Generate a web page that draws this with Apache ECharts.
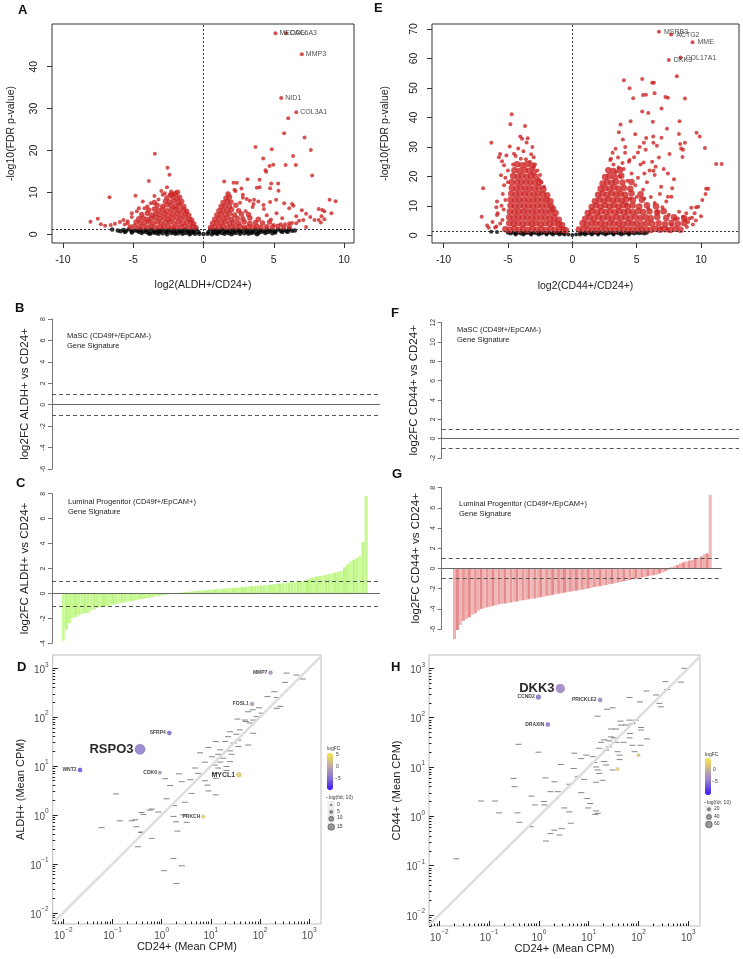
<!DOCTYPE html>
<html><head><meta charset="utf-8">
<script src="https://cdn.jsdelivr.net/npm/echarts@6/dist/echarts.min.js"></script>
<style>html,body{margin:0;padding:0;background:#fff}#c{width:743px;height:959px}</style>
</head><body><div id="c"></div>
<script>
// ---------------- DATA ----------------
// Panel A volcano: log2(ALDH+/CD24+), -log10(FDR)
const aBlack = [[-6.5,1.1],[-6.1,0.9],[-5.7,1.0],[-5.3,1.2],[-4.9,0.9],[-4.5,1.1],[-4.1,1.0],[-3.7,1.2],[-3.3,0.9],[-2.9,1.1],[-2.5,1.0],[-2.1,1.2],[-1.7,0.9],[-1.3,1.1],[-0.9,1.0],[-0.5,1.1],[0.5,1.1],[0.9,1.0],[1.3,1.2],[1.7,0.9],[2.1,1.1],[2.5,1.0],[2.9,1.2],[3.3,0.9],[3.7,1.1],[4.1,1.0],[4.5,1.2],[4.9,0.9],[5.3,1.1],[5.7,1.0],[6.1,1.2],[6.5,0.9],
[-5.9,0.7],[-5.5,0.8],[-5.1,0.7],[-4.7,0.8],[-4.3,0.7],[-3.9,0.8],[-3.5,0.7],[-3.1,0.8],[-2.7,0.7],[-2.3,0.8],[-1.9,0.7],[-1.5,0.8],[-1.1,0.7],[-0.7,0.8],[0.7,0.8],[1.1,0.7],[1.5,0.8],[1.9,0.7],[2.3,0.8],[2.7,0.7],[3.1,0.8],[3.5,0.7],[3.9,0.8],[4.3,0.7],[4.7,0.8],[5.1,0.7],[5.5,0.8],[5.9,0.7],[6.3,0.8],
[-5.6,0.5],[-5.1,0.4],[-4.6,0.6],[-4.1,0.5],[-3.6,0.4],[-3.1,0.6],[-2.6,0.5],[-2.1,0.4],[-1.6,0.6],[-1.1,0.5],[-0.7,0.4],[-0.35,0.5],[0.35,0.5],[0.7,0.4],[1.1,0.6],[1.6,0.5],[2.1,0.4],[2.6,0.6],[3.1,0.5],[3.6,0.4],[4.1,0.6],[4.6,0.5],[5.1,0.4],[5.6,0.5],[6.0,0.6],
[-4.4,0.3],[-3.9,0.2],[-3.4,0.3],[-2.9,0.2],[-2.3,0.3],[-1.8,0.2],[-1.3,0.3],[-0.9,0.2],[0.9,0.2],[1.3,0.3],[1.8,0.2],[2.3,0.3],[2.9,0.2],[3.4,0.3],[3.9,0.2],[4.4,0.3],[4.9,0.2],
[-3.8,0.1],[-3.2,0.1],[-2.6,0.0],[-2.0,0.1],[-1.5,0.1],[-1.0,0.0],[-0.6,0.1],[-0.3,0.1],[0,0.05],[0.3,0.1],[0.6,0.0],[1.0,0.1],[1.5,0.1],[2.0,0.0],[2.6,0.1],[3.2,0.1],[3.8,0.0]];
const aRedCore = [[-5.2,1.7],[-4.9,1.9],[-4.6,1.6],[-4.3,1.8],[-4.0,1.7],[-3.7,1.9],[-3.4,1.6],[-3.1,1.8],[-2.8,1.7],[-2.5,1.9],[-2.2,1.6],[-1.9,1.8],[-1.6,1.7],[-1.3,1.9],[-1.0,1.6],[-0.75,1.8],[-0.55,1.6],
[-4.8,2.9],[-4.5,2.7],[-4.2,2.8],[-3.9,3.0],[-3.6,2.7],[-3.3,2.9],[-3.0,2.6],[-2.7,2.8],[-2.4,3.0],[-2.1,2.7],[-1.8,2.9],[-1.5,2.6],[-1.2,2.8],[-0.9,2.7],[-0.7,2.5],
[-4.6,3.7],[-4.3,3.9],[-4.0,3.6],[-3.7,3.8],[-3.4,4.0],[-3.1,3.7],[-2.8,3.9],[-2.5,3.6],[-2.2,3.8],[-1.9,4.0],[-1.6,3.7],[-1.3,3.9],[-1.0,3.6],[-0.85,3.4],
[-4.4,4.7],[-4.0,5.0],[-3.7,4.6],[-3.4,4.9],[-3.1,4.7],[-2.8,4.9],[-2.5,4.6],[-2.2,4.8],[-1.9,5.0],[-1.6,4.7],[-1.3,4.9],[-1.05,4.5],
[-3.9,5.8],[-3.5,6.0],[-3.2,5.7],[-2.9,5.9],[-2.6,5.6],[-2.3,5.8],[-2.0,6.0],[-1.7,5.7],[-1.4,5.9],[-1.2,5.5],
[-3.3,6.9],[-2.9,6.7],[-2.6,7.0],[-2.3,6.8],[-2.0,6.6],[-1.7,6.9],[-1.4,6.6],
[-3.5,7.6],[-2.7,7.9],[-2.4,7.7],[-2.1,7.9],[-1.8,7.6],[-1.55,7.8],
[-2.6,8.7],[-2.2,8.9],[-1.9,8.6],[-1.7,8.8],[-2.0,9.7],[-1.85,10.0],[-2.3,9.5],
[0.5,1.6],[0.8,1.8],[1.1,1.7],[1.4,1.9],[1.7,1.6],[2.0,1.8],[2.3,1.7],[2.6,1.9],[2.9,1.6],[3.2,1.8],[3.5,1.7],[3.8,1.9],[4.1,1.6],[4.5,1.8],[4.9,1.7],[5.3,1.9],[5.7,1.6],[6.1,1.8],
[0.65,2.6],[0.95,2.8],[1.25,2.7],[1.55,2.9],[1.85,2.6],[2.15,2.8],[2.5,2.7],[2.9,2.9],[3.3,2.6],[3.7,2.8],[4.2,2.7],[4.7,2.9],
[0.8,3.6],[1.1,3.8],[1.4,3.7],[1.7,3.9],[2.0,3.6],[2.4,3.8],[2.8,3.7],[3.3,3.9],[3.9,3.6],
[0.95,4.6],[1.25,4.8],[1.55,4.7],[1.85,4.9],[2.2,4.6],[2.7,4.8],[3.2,4.7],
[1.1,5.6],[1.4,5.8],[1.7,5.7],[2.0,5.9],[2.5,5.6],
[1.25,6.6],[1.55,6.8],[1.85,6.7],[2.3,6.9],
[1.4,7.6],[1.7,7.8],[1.95,7.7],[1.6,8.6],[1.85,8.9],[1.75,9.6]];
const aRedOut = [[6.03,27.7],[5.74,24.1],[7.19,23.1],[3.70,20.8],[4.86,20.3],[7.64,20.1],[4.25,18.1],[6.38,18.7],[4.96,16.6],[4.70,16.3],[5.84,16.5],[6.57,16.5],[4.41,15.3],[4.46,14.9],[7.73,14.0],[3.13,13.1],[3.99,13.0],[1.47,12.6],[2.14,12.3],[2.37,12.3],[4.82,12.1],[5.31,12.1],[4.0,11.2],[3.8,11.1],[4.74,11.0],[5.34,10.4],[2.28,10.3],[2.8,9.4],[2.8,8.7],[3.6,8.2],[3.9,7.8],[5.17,8.2],[8.97,8.2],[9.4,7.9],[5.74,7.4],[6.3,7.2],[6.4,6.8],[6.1,6.2],[7.0,5.7],[8.2,6.0],[8.45,5.8],[8.6,5.5],[9.1,5.0],[7.3,4.9],[7.6,4.1],[8.4,4.3],[7.9,3.4],[8.2,3.4],[8.6,3.6],[7.1,3.4],[6.8,3.2],[6.6,2.6],[6.3,2.7],[6.1,2.6],[5.8,2.4],[5.5,2.4],[5.0,2.2],[7.3,1.7],[8.35,2.8],[4.5,4.5],[5.2,5.0],[4.3,6.0],[3.5,6.5],[2.7,10.9],[3.0,5.5],[4.8,3.5],[5.6,3.8],[6.6,4.3],[2.6,7.5],[3.3,8.0],[2.2,10.6],[3.08,8.4],[3.56,7.2],[4.27,7.0],[4.74,7.7],
[-3.46,19.2],[-2.56,15.9],[-2.42,14.2],[-3.89,12.7],[-2.6,11.2],[-6.69,8.8],[-4.84,9.2],[-3.49,9.1],[-2.9,9.4],[-2.75,9.8],[-2.4,9.4],[-2.14,9.5],[-4.32,7.8],[-3.75,7.4],[-4.0,6.6],[-4.74,5.5],[-5.1,5.0],[-5.7,3.4],[-5.95,2.9],[-6.3,2.5],[-6.6,2.2],[-7.0,2.0],[-7.3,2.4],[-7.52,3.7],[-8.04,3.0],[-5.6,2.3],[-5.4,2.6],[-5.1,4.1],[-4.6,6.2],[-3.2,8.3],[-3.0,10.3],[-2.3,10.2],[-4.2,6.2],[-5.4,3.1]];
const aLabNames = ['MEDAG','COL6A3','MMP3','NID1','COL3A1'];
const aLabX = [5.12,5.88,7.0,5.53,6.6];
const aLabY = [48.0,48.0,43.0,32.5,29.1];

// Panel E volcano: log2(CD44+/CD24+), -log10(FDR)
const eBlack = [[-6.3,1.2],[-5.85,1.1],[-5.0,0.9],[-4.6,0.9],[-4.2,0.9],[-3.8,0.9],[-3.4,0.9],[-3.0,0.9],[-2.6,0.9],[-2.2,0.9],[-1.8,0.9],[-1.4,0.9],[-1.0,0.9],[-0.6,0.9],[0.6,0.9],[1.0,0.9],[1.4,0.9],[1.8,0.9],[2.2,0.9],[2.6,0.9],[3.0,0.9],[3.4,0.9],[3.8,0.9],[4.2,0.9],[4.6,0.9],[5.0,0.9],[5.4,0.9],[5.8,0.9],
[-4.8,0.6],[-4.4,0.7],[-4.0,0.6],[-3.6,0.7],[-3.2,0.6],[-2.8,0.7],[-2.4,0.6],[-2.0,0.7],[-1.6,0.6],[-1.2,0.7],[-0.8,0.6],[0.8,0.6],[1.2,0.7],[1.6,0.6],[2.0,0.7],[2.4,0.6],[2.8,0.7],[3.2,0.6],[3.6,0.7],[4.0,0.6],[4.4,0.7],[4.8,0.6],[5.2,0.7],[5.6,0.6],
[-4.4,0.3],[-3.8,0.3],[-3.2,0.3],[-2.6,0.3],[-2.0,0.3],[-1.5,0.3],[-1.0,0.3],[-0.6,0.3],[-0.3,0.3],[0,0.1],[0.3,0.3],[0.6,0.3],[1.0,0.3],[1.5,0.3],[2.0,0.3],[2.6,0.3],[3.2,0.3],[3.8,0.3],[4.4,0.3]];
const eRedCore = [[-5.2,2.1],[-4.85,1.9],[-4.5,2.2],[-4.15,1.9],[-3.8,2.1],[-3.45,1.8],[-3.1,2.2],[-2.75,1.9],[-2.4,2.1],[-2.05,1.8],[-1.7,2.2],[-1.35,1.9],[-1.0,2.1],[-0.7,1.9],[-0.5,1.7],
[-4.9,4.1],[-4.55,3.9],[-4.2,4.2],[-3.85,3.8],[-3.5,4.1],[-3.15,3.9],[-2.8,4.2],[-2.45,3.8],[-2.1,4.1],[-1.75,3.9],[-1.4,4.2],[-1.05,3.8],[-0.8,3.5],
[-4.9,6.1],[-4.55,5.8],[-4.2,6.2],[-3.85,5.9],[-3.5,6.1],[-3.15,5.8],[-2.8,6.2],[-2.45,5.9],[-2.1,6.1],[-1.75,5.8],[-1.4,6.0],[-1.05,5.3],
[-4.85,8.1],[-4.5,7.8],[-4.15,8.2],[-3.8,7.9],[-3.45,8.1],[-3.1,7.8],[-2.75,8.2],[-2.4,7.9],[-2.05,8.1],[-1.7,7.8],[-1.3,7.6],
[-4.8,10.1],[-4.45,9.8],[-4.1,10.2],[-3.75,9.9],[-3.4,10.1],[-3.05,9.8],[-2.7,10.2],[-2.35,9.9],[-2.0,10.1],[-1.65,9.8],[-1.5,9.0],
[-4.8,12.1],[-4.45,11.8],[-4.1,12.2],[-3.75,11.9],[-3.4,12.1],[-3.05,11.8],[-2.7,12.2],[-2.35,11.9],[-2.0,12.1],[-1.7,11.6],
[-4.75,14.1],[-4.4,13.8],[-4.05,14.2],[-3.7,13.9],[-3.35,14.1],[-3.0,13.8],[-2.65,14.2],[-2.3,13.9],[-1.95,13.6],
[-4.7,16.1],[-4.35,15.8],[-4.0,16.2],[-3.65,15.9],[-3.3,16.1],[-2.95,15.8],[-2.6,16.2],[-2.25,15.6],
[-4.7,18.1],[-4.3,17.8],[-3.95,18.2],[-3.6,17.9],[-3.25,18.1],[-2.9,17.8],[-2.55,18.0],
[-4.6,20.1],[-4.25,19.8],[-3.9,20.2],[-3.55,19.9],[-3.2,20.1],[-2.85,19.8],
[-4.5,22.1],[-4.1,21.8],[-3.7,22.2],[-3.35,21.9],[-3.0,21.5],[-4.3,24.1],[-3.9,23.8],[-3.5,24.2],[-3.1,23.7],
[0.5,2.0],[0.85,2.2],[1.2,1.9],[1.55,2.1],[1.9,1.8],[2.25,2.2],[2.6,1.9],[2.95,2.1],[3.3,1.8],[3.65,2.2],[4.0,1.9],[4.35,2.1],[4.7,1.8],[5.05,2.2],[5.4,1.9],[5.75,2.1],[6.1,1.8],[6.45,2.2],[6.8,1.9],[7.2,2.1],[7.6,1.8],[8.0,2.2],[8.4,1.9],
[0.8,4.1],[1.15,3.8],[1.5,4.2],[1.85,3.9],[2.2,4.1],[2.55,3.8],[2.9,4.2],[3.25,3.9],[3.6,4.1],[3.95,3.8],[4.3,4.2],[4.65,3.9],[5.0,4.1],[5.4,3.8],[5.8,4.2],[6.2,3.9],[6.7,4.1],[7.2,3.8],[7.7,4.2],[8.2,3.9],[8.7,4.1],
[1.0,5.6],[1.35,6.1],[1.7,5.8],[2.05,6.2],[2.4,5.9],[2.75,6.1],[3.1,5.8],[3.45,6.2],[3.8,5.9],[4.15,6.1],[4.5,5.8],[4.9,6.2],[5.3,5.9],[5.7,6.1],[6.1,5.8],[6.6,6.2],[7.3,5.9],[7.9,6.1],[8.7,5.8],
[1.2,7.6],[1.55,8.1],[1.9,7.8],[2.25,8.2],[2.6,7.9],[2.95,8.1],[3.3,7.8],[3.65,8.2],[4.0,7.9],[4.35,8.1],[4.7,7.8],[5.1,8.2],[5.5,7.9],[6.0,8.1],[6.6,7.8],[7.1,8.2],
[1.5,9.6],[1.85,10.1],[2.2,9.8],[2.55,10.2],[2.9,9.9],[3.25,10.1],[3.6,9.8],[3.95,10.2],[4.3,9.9],[4.7,10.1],[5.2,9.8],[5.8,10.2],[6.5,9.9],
[1.75,11.6],[2.1,12.1],[2.45,11.8],[2.8,12.2],[3.15,11.9],[3.5,12.1],[3.85,11.8],[4.2,12.2],[4.7,11.9],[5.4,12.1],
[2.0,13.8],[2.35,14.1],[2.7,13.8],[3.05,14.2],[3.4,13.9],[3.75,14.1],[4.1,13.8],[4.6,14.2],[5.3,13.9],
[2.2,15.8],[2.55,16.1],[2.9,15.8],[3.25,16.2],[3.6,15.9],[4.0,16.1],[4.5,15.8],
[2.35,17.6],[2.7,18.1],[3.05,17.8],[3.4,18.2],[3.9,17.9],[4.6,18.1],
[2.55,19.8],[2.9,20.1],[3.3,19.8],[3.8,20.2],[2.8,22.1],[3.2,21.8],[3.7,22.2]];
const eRedOut = [[8.12,54.0],[5.43,53.0],[4.01,52.6],[6.21,51.8],[6.34,51.8],[4.45,49.9],[6.39,48.2],[5.49,47.6],[5.72,47.7],[4.73,46.5],[7.24,46.9],[7.43,46.7],[8.75,46.4],[6.93,43.0],[5.43,42.0],[5.9,41.5],[8.33,38.7],[6.26,38.5],[4.53,38.7],[3.75,37.6],[7.35,36.2],[9.65,34.8],[3.62,35.0],[9.9,33.5],[4.89,34.3],[8.28,34.4],[3.93,32.5],[5.74,33.0],[6.29,33.5],[6.93,33.1],[8.75,31.4],[8.38,31.0],[5.56,31.4],[6.3,31.4],[4.11,30.0],[5.23,30.0],[6.57,30.4],[8.46,29.5],[8.6,29.0],[10.3,29.6],[3.36,29.4],[3.13,28.0],[5.1,28.1],[7.55,27.6],[6.73,26.4],[8.56,26.6],[11.18,24.2],[11.6,24.2],[2.95,25.6],[3.55,26.4],[4.45,25.6],[5.54,24.7],[6.47,23.3],[7.43,21.0],[6.3,21.9],[5.6,21.0],[6.9,16.5],[10.4,15.8],[10.56,15.8],[10.35,14.0],[10.1,12.0],[7.76,16.0],[7.43,13.1],[7.7,13.1],[9.24,9.4],[9.62,9.5],[9.78,9.7],[9.5,7.5],[8.85,7.5],[8.6,6.3],[8.2,5.7],[9.37,3.7],[9.1,5.7],[8.8,5.2],
[3.4,21.5],[3.7,20.0],[4.0,22.5],[4.3,18.5],[4.6,21.0],[4.9,17.0],[5.1,19.5],[5.5,15.5],[5.8,18.0],[6.0,22.0],[6.2,25.0],[4.4,25.0],[4.8,26.5],[5.3,24.0],[3.9,24.5],[3.2,24.0],[5.6,12.5],[6.1,13.0],[6.4,11.0],[6.8,14.0],[7.0,9.5],[7.3,11.5],[5.9,9.0],[6.6,8.0],[7.5,7.0],[8.0,5.5],[8.3,8.0],[9.0,4.5],[9.3,6.0],[7.7,3.5],[8.9,2.8],[9.6,5.0],[10.0,6.5],[6.9,2.5],[7.4,2.2],[5.0,13.0],[4.5,12.5],[4.2,10.5],[3.6,23.0],[5.7,29.0],[6.4,20.5],[7.1,22.5],[7.9,19.0],[4.1,28.0],[3.0,26.0],
[-4.71,41.1],[-4.81,37.7],[-3.67,37.1],[-6.29,31.4],[-4.04,33.5],[-3.9,32.8],[-3.47,32.9],[-3.55,31.5],[-4.86,30.1],[-3.1,30.0],[-5.61,27.6],[-5.12,27.1],[-4.53,27.7],[-4.4,26.9],[-5.46,25.1],[-5.3,23.8],[-5.7,26.5],[-5.54,20.4],[-5.3,17.0],[-5.85,11.5],[-6.93,16.0],[-7.04,6.3],[-6.62,3.3],[-6.5,2.6],[-6.0,2.7],[-5.6,4.0],[-5.43,5.2],[-5.33,8.8],[-5.9,9.5],[-5.8,7.5],[-5.85,6.9],[-3.2,27.5],[-3.0,26.5],[-3.3,25.0],[-3.8,28.5],[-4.2,29.5],[-2.9,24.0],[-2.7,22.0],[-2.5,20.5],[-2.4,18.0],[-2.2,16.5],[-4.0,26.0],[-4.6,24.0],[-3.6,25.8],[-3.0,23.0],[-2.6,19.0],[-5.0,22.0],[-5.2,19.5],[-5.0,18.0],[-5.4,14.0],[-5.2,12.0],[-5.5,10.0],[-6.2,4.5],[-5.9,3.0]];
const eLabNames = ['MSRB3','ACTG2','MME','DKK3','COL17A1'];
const eLabX = [6.73,7.68,9.34,7.5,8.41];
const eLabY = [69.1,68.1,65.5,59.5,60.3];

// Panel C bars: log2FC ALDH+ vs CD24+, luminal progenitor signature (sorted)
const cVals = [-3.8,-2.9,-2.4,-2.0,-1.9,-1.75,-1.65,-1.6,-1.55,-1.4,-1.25,-1.15,-1.1,-1.06,-1.0,-0.96,-0.9,-0.86,-0.8,-0.77,-0.71,-0.66,-0.62,-0.57,-0.52,-0.47,-0.43,-0.37,-0.33,-0.29,-0.24,-0.2,-0.17,-0.12,-0.08,-0.03,
0.02,0.05,0.07,0.1,0.12,0.15,0.17,0.19,0.21,0.24,0.26,0.27,0.3,0.32,0.35,0.36,0.38,0.41,0.43,0.45,0.46,0.49,0.51,0.53,0.56,0.58,0.6,0.61,0.64,0.66,0.68,0.71,0.73,0.76,0.79,0.81,0.84,0.86,0.9,0.93,0.97,1.0,1.06,1.12,1.22,1.3,1.36,1.4,1.44,1.5,1.55,1.62,1.68,1.74,1.78,2.1,2.35,2.55,2.7,2.85,3.0,4.1,7.8];
// Panel G bars: log2FC CD44+ vs CD24+, luminal progenitor signature (sorted)
const gVals = [-7.0,-6.1,-5.6,-5.2,-5.0,-4.85,-4.6,-4.45,-4.2,-4.0,-3.95,-3.85,-3.78,-3.7,-3.66,-3.55,-3.5,-3.47,-3.4,-3.38,-3.3,-3.27,-3.2,-3.15,-3.12,-3.05,-3.0,-2.98,-2.9,-2.85,-2.8,-2.72,-2.68,-2.62,-2.55,-2.5,-2.47,-2.4,-2.35,-2.3,-2.25,-2.2,-2.14,-2.1,-2.03,-1.98,-1.92,-1.85,-1.8,-1.76,-1.7,-1.64,-1.57,-1.52,-1.45,-1.4,-1.33,-1.27,-1.2,-1.15,-1.08,-1.02,-0.95,-0.9,-0.84,-0.78,-0.72,-0.66,-0.6,-0.5,-0.4,-0.28,-0.12,0.1,0.22,0.35,0.5,0.6,0.7,0.78,0.86,0.95,1.05,1.2,1.4,1.5,7.3];
const posThreshold = 1;   // dashed lines at +/-1 log2FC

// Panel D: log10 mean CPM, CD24+ (x) vs ALDH+ (y); small gene labels
const dGenes = [[2.54,2.90],[2.74,2.86],[2.51,2.71],[2.87,2.78],[2.29,2.52],[2.15,2.42],[2.34,2.40],[1.98,2.19],[1.85,2.15],[1.76,2.11],[2.34,2.18],[2.41,2.22],[2.03,2.08],[1.93,2.01],[1.86,1.94],[1.69,1.94],[1.71,1.91],[1.79,1.88],[1.59,1.74],[1.39,1.70],[1.52,1.65],[1.86,1.67],[1.35,1.60],[1.10,1.50],[1.29,1.50],[1.56,1.53],[1.46,1.47],[1.76,1.43],[1.56,1.40],[0.95,1.38],[1.19,1.33],[1.39,1.31],[0.78,1.27],[1.15,1.24],[1.42,1.24],[1.02,1.19],[1.25,1.16],[0.88,1.08],[1.19,1.08],[1.39,1.09],[1.08,1.02],[1.32,0.99],[1.15,0.96],[0.68,0.96],[1.08,0.85],[0.74,0.85],[0.35,0.84],[0.58,0.72],[0.88,0.70],[1.10,0.75],[0.41,0.68],[0.17,0.60],[0.93,0.61],[0.07,0.74],[0.61,0.44],[0.95,0.49],[1.10,0.41],[0.10,0.33],[0.47,0.26],[0.25,0.19],[-0.20,0.12],[-0.07,0.06],[-0.37,0.01],[-0.54,-0.10],[0.24,-0.03],[0.44,0.00],[0.29,-0.14],[0.51,-0.15],[0.32,-0.33],[-0.41,-0.35],[-0.20,-0.48],[-0.48,-0.65],[-0.93,0.43],[-1.22,-0.26],[-0.85,-0.12],[-0.61,-0.12],[-0.41,0.05],[-0.24,0.10],[-0.51,-0.24],[-0.41,-0.36],[0.24,-0.89],[0.05,-1.14],[0.30,-1.40],[1.54,1.96],[1.32,0.91],[0.41,-1.04]];
const dLabNames = ['RSPO3','WNT2','SFRP4','CDK6','MMP7','FOSL1','MYCL1','PRKCH'];
const dLabX = [-0.44,-1.66,0.155,-0.035,2.215,1.84,1.57,0.846];
const dLabY = [1.344,0.92,1.677,0.865,2.91,2.27,0.82,-0.035];
const dLabFC = [-3.2,-5.6,-4.3,-1.5,-1.2,-1.0,3.6,4.0];
const dLabSig = [15,3,3,1,2,2,4,1];

// Panel H: log10 mean CPM, CD24+ (x) vs CD44+ (y)
const hGenes = [[1.82,2.41],[2.03,2.32],[2.16,2.54],[2.35,2.46],[2.42,2.29],[2.45,2.22],[2.54,2.73],[2.57,2.57],[2.85,2.72],[2.92,3.00],[1.48,2.20],[1.37,2.17],[1.18,2.03],[1.82,1.95],[1.88,1.88],[1.95,1.95],[2.05,1.80],[2.17,1.57],[1.64,1.93],[1.65,1.85],[1.75,1.85],[1.45,1.77],[1.55,1.77],[1.83,1.68],[2.05,1.75],[2.04,1.44],[1.31,1.55],[1.41,1.53],[1.25,1.50],[1.45,1.61],[1.51,1.59],[1.82,1.59],[1.41,1.41],[1.21,1.38],[1.35,1.34],[1.92,1.31],[1.70,1.50],[1.55,1.50],[1.62,1.24],[1.62,1.15],[1.88,1.44],[1.58,1.31],[0.71,1.28],[0.85,1.17],[0.95,1.24],[1.11,1.09],[1.31,1.11],[1.15,1.00],[1.35,1.04],[1.48,0.94],[1.21,0.87],[1.18,0.94],[1.28,0.73],[1.15,0.69],[0.91,0.75],[0.70,0.97],[0.78,0.80],[0.44,1.05],[0.31,0.70],[0.13,0.78],[0.61,0.65],[1.08,1.21],[-0.51,0.77],[-0.49,0.60],[-0.41,1.46],[-0.01,1.30],[-0.15,0.41],[-0.08,0.23],[0.23,0.50],[0.10,0.30],[0.51,0.17],[0.61,0.09],[0.97,0.36],[1.03,0.26],[0.99,0.17],[1.15,0.11],[1.18,0.06],[0.85,0.48],[0.38,0.50],[1.13,0.04],[0.64,-0.14],[0.31,-0.28],[0.46,-0.25],[0.23,-0.35],[0.41,-0.38],[-0.39,-0.12],[0.14,-0.50],[-1.16,0.31],[-0.88,0.31],[-0.80,0.07],[-0.43,0.07],[-0.17,-0.21],[-1.66,-0.86],[0.11,0.23]];
const hLabNames = ['DKK3','CCND2','PRICKLE2','DRAXIN','',''];
const hLabX = [0.43,-0.01,1.23,0.18,2.0,1.58];
const hLabY = [2.59,2.42,2.36,1.86,1.24,0.96];
const hLabFC = [-3.4,-4.6,-3.0,-4.2,2.5,3.0];
const hLabSig = [60,20,15,15,3,3];

// Axis tick labels
const volXTicks = [-10,-5,0,5,10];
const aYTicks = [0,10,20,30,40];
const eYTicks = [0,10,20,30,40,50,60,70];
const bTicks = [-6,-4,-2,0,2,4,6,8];
const cTicks = [-4,-2,0,2,4,6,8];
const fTicks = [-2,0,2,4,6,8,10,12];
const gTicks = [-6,-4,-2,0,2,4,6,8];
const logMajor = [-2,-1,0,1,2,3];

// ---------------- CHART ----------------
const FONT = "'Liberation Sans', Arial, Helvetica, sans-serif";
const RED = '#cd2626';
const chart = echarts.init(document.getElementById('c'), null, {renderer:'canvas', width:743, height:959});

const logMinor = [];
for (let n = -3; n <= 3; n++) for (let k = 2; k <= 9; k++) logMinor.push(n + Math.log10(k));

const grids = [
  {left:52, top:24, width:302, height:219, show:true, borderColor:'#333', borderWidth:1},      // A
  {left:432, top:24, width:307, height:219, show:true, borderColor:'#333', borderWidth:1},     // E
  {left:52, top:319, width:328, height:150},   // B
  {left:52, top:493.7, width:328, height:149.6},  // C
  {left:441.7, top:322.7, width:297.3, height:135.3}, // F
  {left:441.7, top:487.7, width:280, height:141.3},   // G
  {left:52.7, top:655, width:268.3, height:269, show:true, borderColor:'#bdbdbd', borderWidth:1}, // D
  {left:429, top:655, width:271, height:271, show:true, borderColor:'#bdbdbd', borderWidth:1}     // H
];

function volX(g, min, max, name, gap) {
  return {type:'value', gridIndex:g, min, max, position:'bottom', axisLine:{show:false, onZero:false}, splitLine:{show:false},
    axisTick:{show:true, customValues:volXTicks, length:5, lineStyle:{color:'#333'}},
    axisLabel:{customValues:volXTicks, fontSize:10.5, color:'#222', fontFamily:FONT, margin:12},
    name, nameLocation:'middle', nameGap:gap, nameTextStyle:{fontSize:10.5, color:'#222', fontFamily:FONT}};
}
function volY(g, min, max, ticks, name, gap) {
  return {type:'value', gridIndex:g, min, max, position:'left', axisLine:{show:false, onZero:false}, splitLine:{show:false},
    axisTick:{show:true, customValues:ticks, length:5, lineStyle:{color:'#333'}},
    axisLabel:{customValues:ticks, fontSize:10.5, color:'#222', fontFamily:FONT, margin:12, rotate:90},
    name, nameLocation:'middle', nameGap:gap, nameTextStyle:{fontSize:10.5, color:'#222', fontFamily:FONT}};
}
function barY(g, min, max, ticks, name, gap) {
  return {type:'value', gridIndex:g, min, max, position:'left', splitLine:{show:false},
    axisLine:{show:true, onZero:false, lineStyle:{color:'#777', width:1}},
    axisTick:{show:true, customValues:ticks, length:4, lineStyle:{color:'#777'}},
    axisLabel:{customValues:ticks, fontSize:7, color:'#333', fontFamily:FONT, margin:5, rotate:90},
    name, nameLocation:'middle', nameGap:gap, nameTextStyle:{fontSize:11.5, color:'#222', fontFamily:FONT}};
}
function hiddenX(g, min, max) {
  return {type:'value', gridIndex:g, min, max, show:false, splitLine:{show:false}, axisLine:{onZero:false}};
}
const supFmt = v => '{b|10}{s|' + (v < 0 ? '\u2212' + (-v) : v) + '}';
const supRich = {b:{fontSize:10, color:'#4d4d4d', fontFamily:FONT, verticalAlign:'bottom', lineHeight:14}, s:{fontSize:6.5, color:'#4d4d4d', fontFamily:FONT, verticalAlign:'top', lineHeight:14}};
function logAxisMajor(g, min, max, name, gap, isY) {
  return {type:'value', gridIndex:g, min, max, position:isY ? 'left' : 'bottom', splitLine:{show:false}, axisLine:{show:false, onZero:false},
    axisTick:{show:true, inside:true, customValues:logMajor, length:5, lineStyle:{color:'#222', width:1}},
    axisLabel:{customValues:logMajor, formatter:supFmt, rich:supRich, margin:isY ? 4 : 3},
    name, nameLocation:'middle', nameGap:gap, nameTextStyle:{fontSize:11, color:'#222', fontFamily:FONT}};
}
function logAxisMinor(g, min, max, isY) {
  return {type:'value', gridIndex:g, min, max, position:isY ? 'left' : 'bottom', splitLine:{show:false}, axisLine:{show:false, onZero:false},
    axisTick:{show:true, inside:true, customValues:logMinor.filter(v => v > min && v < max), length:2.5, lineStyle:{color:'#222', width:1}},
    axisLabel:{show:false}};
}

const cN = cVals.length, cUnit = 306 / cN;
const gN = gVals.length, gUnit = 258.7 / gN;
const D = {xmin:-2.216, xmax:3.24, ymin:-2.23, ymax:3.27};
const H = {xmin:-2.207, xmax:3.235, ymin:-2.223, ymax:3.27};

const xAxes = [
  volX(0, -10.78, 10.71, 'log2(ALDH+/CD24+)', 37),
  volX(1, -10.9, 12.95, 'log2(CD44+/CD24+)', 38),
  hiddenX(2, 0, 1),
  hiddenX(3, -0.5 - 9.7 / cUnit, cN - 0.5 + 12.3 / cUnit),
  hiddenX(4, 0, 1),
  hiddenX(5, -0.5 - 11.3 / gUnit, gN - 0.5 + 10 / gUnit),
  logAxisMajor(6, D.xmin, D.xmax, 'CD24+ (Mean CPM)', 17, false),
  logAxisMinor(6, D.xmin, D.xmax, false),
  logAxisMajor(7, H.xmin, H.xmax, 'CD24+ (Mean CPM)', 17, false),
  logAxisMinor(7, H.xmin, H.xmax, false)
];
const yAxes = [
  volY(0, -2.1, 50.2, aYTicks, '-log10(FDR p-value)', 35),
  volY(1, -2.6, 71.7, eYTicks, '-log10(FDR p-value)', 41),
  barY(2, -6, 8, bTicks, 'log2FC ALDH+ vs CD24+', 21),
  barY(3, -4, 8, cTicks, 'log2FC ALDH+ vs CD24+', 21),
  barY(4, -2, 12, fTicks, 'log2FC CD44+ vs CD24+', 22),
  barY(5, -6, 8, gTicks, 'log2FC CD44+ vs CD24+', 20),
  logAxisMajor(6, D.ymin, D.ymax, 'ALDH+ (Mean CPM)', 18, true),
  logAxisMinor(6, D.ymin, D.ymax, true),
  logAxisMajor(7, H.ymin, H.ymax, 'CD44+ (Mean CPM)', 18, true),
  logAxisMinor(7, H.ymin, H.ymax, true)
];

const volGuide = {silent:true, symbol:'none', label:{show:false}, animation:false,
  lineStyle:{type:[2,2], color:'#333', width:1}, data:[{xAxis:0},{yAxis:1.3}]};
const hGuides = {silent:true, symbol:'none', label:{show:false}, animation:false,
  data:[{yAxis:0, lineStyle:{type:'solid', color:'#666', width:1}},
        {yAxis:posThreshold, lineStyle:{type:[4,3], color:'#555', width:1}},
        {yAxis:-posThreshold, lineStyle:{type:[4,3], color:'#555', width:1}}]};

function labeled(names, xs, ys) { return names.map((n,i) => ({name:n, value:[xs[i], ys[i]]})); }

const series = [];
// A
series.push({type:'scatter', xAxisIndex:0, yAxisIndex:0, data:aBlack, symbolSize:4.5, itemStyle:{color:'#000'}, silent:true});
series.push({type:'scatter', xAxisIndex:0, yAxisIndex:0, data:aRedCore, symbolSize:5.5, itemStyle:{color:RED}, silent:true});
series.push({type:'scatter', xAxisIndex:0, yAxisIndex:0, data:aRedOut, symbolSize:4, itemStyle:{color:RED}, silent:true});
series.push({type:'scatter', xAxisIndex:0, yAxisIndex:0, data:labeled(aLabNames, aLabX, aLabY), symbolSize:4, itemStyle:{color:RED},
  label:{show:true, position:'right', distance:2, formatter:'{b}', fontSize:7, color:'#222', fontFamily:FONT}, markLine:volGuide, z:5});
// E
series.push({type:'scatter', xAxisIndex:1, yAxisIndex:1, data:eBlack, symbolSize:4, itemStyle:{color:'#000'}, silent:true});
series.push({type:'scatter', xAxisIndex:1, yAxisIndex:1, data:eRedCore, symbolSize:6.5, itemStyle:{color:RED}, silent:true});
series.push({type:'scatter', xAxisIndex:1, yAxisIndex:1, data:eRedOut, symbolSize:4, itemStyle:{color:RED}, silent:true});
series.push({type:'scatter', xAxisIndex:1, yAxisIndex:1, data:labeled(eLabNames, eLabX, eLabY), symbolSize:4, itemStyle:{color:RED},
  label:{show:true, position:'right', distance:3, formatter:'{b}', fontSize:7, color:'#222', fontFamily:FONT}, markLine:volGuide, z:5});
// B (no genes plotted)
series.push({type:'scatter', xAxisIndex:2, yAxisIndex:2, data:[], markLine:hGuides});
// C
series.push({type:'bar', xAxisIndex:3, yAxisIndex:3, data:cVals.map((v,i)=>[i,v]), barWidth:cUnit, clip:false,
  itemStyle:{color:p => ['#c9fc95','#bff487','#c4f88e'][p.dataIndex % 3]}, markLine:hGuides, silent:true});
// F (no genes plotted)
series.push({type:'scatter', xAxisIndex:4, yAxisIndex:4, data:[], markLine:hGuides});
// G
series.push({type:'bar', xAxisIndex:5, yAxisIndex:5, data:gVals.map((v,i)=>[i,v]), barWidth:gUnit, clip:false,
  itemStyle:{color:p => ['#efb0b0','#e48a8a','#f0b8b8','#e79999'][p.dataIndex % 4]}, markLine:hGuides, silent:true});

// D
const diag = (L) => ({silent:true, symbol:'none', label:{show:false}, animation:false,
  lineStyle:{type:'solid', color:'#dedede', width:2.5},
  data:[[{coord:[Math.max(L.xmin,L.ymin), Math.max(L.xmin,L.ymin)]},{coord:[Math.min(L.xmax,L.ymax), Math.min(L.xmax,L.ymax)]}]]});
series.push({type:'scatter', xAxisIndex:6, yAxisIndex:6, data:[], markLine:diag(D), z:1});
series.push({type:'scatter', xAxisIndex:6, yAxisIndex:6, data:dGenes, symbol:'rect', symbolSize:[6,1], itemStyle:{color:'#666'}, silent:true});
const bigLab = {RSPO3:{fontSize:13, fontWeight:'bold', color:'#111'}, DKK3:{fontSize:13, fontWeight:'bold', color:'#111'}, MYCL1:{fontSize:7, fontWeight:'bold', color:'#222'}};
function colorData(names, xs, ys, fc, sig, sz) {
  return names.map((n,i) => {
    const lab = bigLab[n] || {fontSize:5, fontWeight:'bold', color:'#333'};
    return {name:n, value:[xs[i], ys[i], fc[i], sig[i]], symbolSize:sz(sig[i]),
      label:{show:n !== '', position:'left', distance:1, formatter:'{b}', fontFamily:FONT, fontSize:lab.fontSize, fontWeight:lab.fontWeight, color:lab.color}};
  });
}
series.push({type:'scatter', xAxisIndex:6, yAxisIndex:6, data:colorData(dLabNames, dLabX, dLabY, dLabFC, dLabSig, s => 3 + s*0.5), z:4, silent:true,
  itemStyle:{opacity:0.9, borderColor:'rgba(80,80,80,0.3)', borderWidth:0.5}});
// H
series.push({type:'scatter', xAxisIndex:8, yAxisIndex:8, data:[], markLine:diag(H), z:1});
series.push({type:'scatter', xAxisIndex:8, yAxisIndex:8, data:hGenes, symbol:'rect', symbolSize:[6,1], itemStyle:{color:'#666'}, silent:true});
series.push({type:'scatter', xAxisIndex:8, yAxisIndex:8, data:colorData(hLabNames, hLabX, hLabY, hLabFC, hLabSig, s => 3 + s*0.1), z:4, silent:true,
  itemStyle:{opacity:0.9, borderColor:'rgba(80,80,80,0.3)', borderWidth:0.5}});

const idxD = series.length - 4, idxH = series.length - 1;
const fcColors = ['#3a14ff','#6a4fe0','#9580cc','#b8a0b0','#dcc676','#f5ea45'];

function txt(x, y, t, size, extra) {
  return {type:'text', left:x, top:y, silent:true, style:Object.assign({text:t, fontSize:size, fontFamily:FONT, fill:'#111'}, extra || {})};
}
const graphics = [
  txt(18,4,'A',13,{fontWeight:'bold'}), txt(374,2,'E',13,{fontWeight:'bold'}),
  txt(15,302,'B',13,{fontWeight:'bold'}), txt(16,477,'C',13,{fontWeight:'bold'}),
  txt(391,307,'F',13,{fontWeight:'bold'}), txt(392,468,'G',13,{fontWeight:'bold'}),
  txt(17,661,'D',13,{fontWeight:'bold'}), txt(391,661,'H',13,{fontWeight:'bold'}),
  txt(67,331,'MaSC (CD49f+/EpCAM-)\nGene Signature',7.5,{lineHeight:10, fill:'#222'}),
  txt(68,497,'Luminal Progenitor (CD49f+/EpCAM+)\nGene Signature',7.5,{lineHeight:10, fill:'#222'}),
  txt(457,325,'MaSC (CD49f+/EpCAM-)\nGene Signature',7.5,{lineHeight:10, fill:'#222'}),
  txt(459,499,'Luminal Progenitor (CD49f+/EpCAM+)\nGene Signature',7.5,{lineHeight:10, fill:'#222'}),
  // D legend
  txt(327,746,'logFC',5,{fill:'#333'}),
  txt(336,752.5,'5',5,{fill:'#333'}), txt(336,764.5,'0',5,{fill:'#333'}), txt(335,776.5,'\u22125',5,{fill:'#333'}),
  txt(326,795,'\u2212log(fdr, 10)',5,{fill:'#333'}),
  txt(337,802,'0',5,{fill:'#333'}), txt(337,809,'5',5,{fill:'#333'}), txt(337,815.5,'10',5,{fill:'#333'}), txt(337,824,'15',5,{fill:'#333'}),
  // H legend
  txt(705,752,'logFC',5,{fill:'#333'}),
  txt(713,767.5,'0',5,{fill:'#333'}), txt(712,779.5,'\u22125',5,{fill:'#333'}),
  txt(704,800,'\u2212log(fdr, 10)',5,{fill:'#333'}),
  txt(714,806.5,'20',5,{fill:'#333'}), txt(714,814,'40',5,{fill:'#333'}), txt(714,821.5,'60',5,{fill:'#333'})
];
[[331,804.7,0.8],[331,811.7,1.5],[331,818.5,2.5],[331,826.7,3.3]].forEach(c => {
  graphics.push({type:'rect', left:c[0]-3.5, top:c[1]-3.5, silent:true, shape:{width:7, height:7}, style:{fill:'#ebebeb'}});
  graphics.push({type:'circle', left:c[0]-c[2], top:c[1]-c[2], silent:true, shape:{r:c[2]}, style:{fill:'#999', stroke:'#333', lineWidth:0.5}});
});
[[708.7,809,1.5],[708.7,816.7,2.5],[708.7,824.3,3.3]].forEach(c => {
  graphics.push({type:'rect', left:c[0]-3.5, top:c[1]-3.5, silent:true, shape:{width:7, height:7}, style:{fill:'#ebebeb'}});
  graphics.push({type:'circle', left:c[0]-c[2], top:c[1]-c[2], silent:true, shape:{r:c[2]}, style:{fill:'#999', stroke:'#333', lineWidth:0.5}});
});

chart.setOption({
  backgroundColor:'#fff',
  animation:false,
  textStyle:{fontFamily:FONT},
  grid:grids,
  xAxis:xAxes,
  yAxis:yAxes,
  visualMap:[
    {type:'continuous', seriesIndex:idxD, dimension:2, min:-9.2, max:5.9, calculable:false, inRange:{color:fcColors},
     itemWidth:6, itemHeight:37, left:327, top:753, padding:0, text:null, showLabel:false, textGap:0, textStyle:{fontSize:1}},
    {type:'continuous', seriesIndex:idxH, dimension:2, min:-9.9, max:4.7, calculable:false, inRange:{color:fcColors},
     itemWidth:6, itemHeight:37, left:705, top:758, padding:0, text:null, showLabel:false, textGap:0, textStyle:{fontSize:1}}
  ],
  series,
  graphic:graphics
});
</script></body></html>
